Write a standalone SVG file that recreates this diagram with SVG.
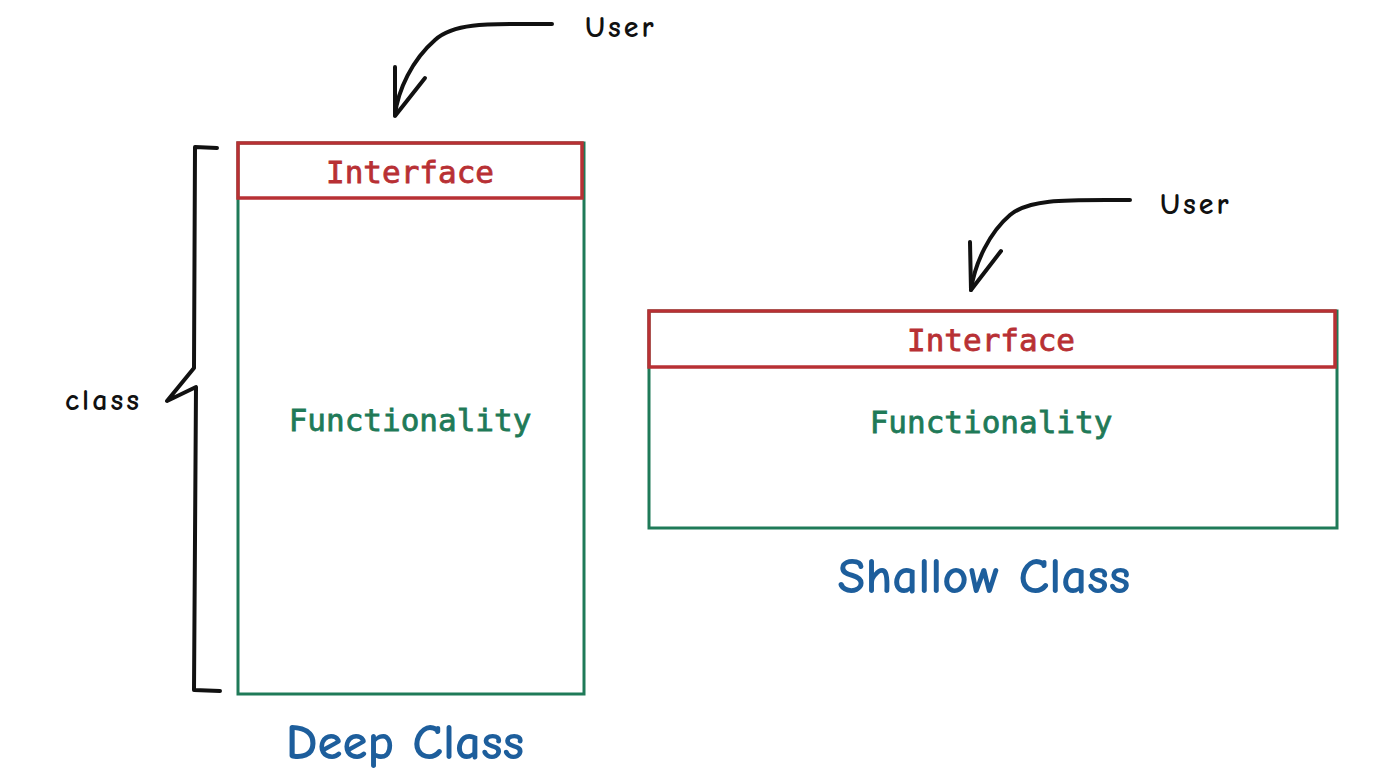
<svg xmlns="http://www.w3.org/2000/svg" width="1400" height="772" viewBox="0 0 1400 772">
<style>
.green{fill:none;stroke:#1f7a58;stroke-width:3}
.red{fill:none;stroke:#b83034;stroke-width:3.5}
.ink{fill:none;stroke:#111;stroke-width:4;stroke-linecap:round;stroke-linejoin:round}
.mono{font-family:"DejaVu Sans Mono","Liberation Mono",monospace;font-size:31px;text-anchor:middle;stroke-width:0.8}
.hand{font-family:"Comic Neue","Noto Sans","DejaVu Sans",sans-serif;font-weight:bold}
.blue{fill:#1d5e9c;font-size:51px;text-anchor:middle}
.blk{fill:#111;font-size:30px;letter-spacing:3px}
</style>
<rect width="1400" height="772" fill="#fff"/>
<g id="deep-class">
<rect class="green" x="238" y="143" width="346" height="551"/>
<rect class="red" x="238" y="143" width="344" height="55"/>
<text class="mono" x="410" y="183" fill="#b83034" stroke="#b83034">Interface</text>
<text class="mono" x="410" y="431" fill="#1f7a58" stroke="#1f7a58">Functionality</text>
<text class="hand blue" x="405" y="759">Deep Class</text>
</g>
<g id="shallow-class">
<rect class="green" x="649" y="311" width="688" height="217"/>
<rect class="red" x="649" y="311" width="686" height="56"/>
<text class="mono" x="991" y="351" fill="#b83034" stroke="#b83034">Interface</text>
<text class="mono" x="991" y="433" fill="#1f7a58" stroke="#1f7a58">Functionality</text>
<text class="hand blue" x="984" y="593">Shallow Class</text>
</g>
<g id="class-brace">
<path class="ink" d="M217,148 L195,147 L194,368 L167,401 L196,387 L194,690 L220,691"/>
<text class="hand blk" x="65" y="410">class</text>
</g>
<g id="user-1">
<text class="hand blk" x="585" y="37">User</text>
</g>
<g id="user-2">
<text class="hand blk" x="1160" y="214">User</text>
</g>
<g id="connectors">
<path class="ink" d="M552,24 C490,24 455,22 435,40 C412,60 398,90 395,115"/>
<path class="ink" d="M395,67 L395,116 L425,78"/>
<path class="ink" d="M1130,200 C1070,200 1030,198 1010,215 C990,232 975,262 971,290"/>
<path class="ink" d="M970,242 L971,290 L1001,251"/>
</g>
</svg>
